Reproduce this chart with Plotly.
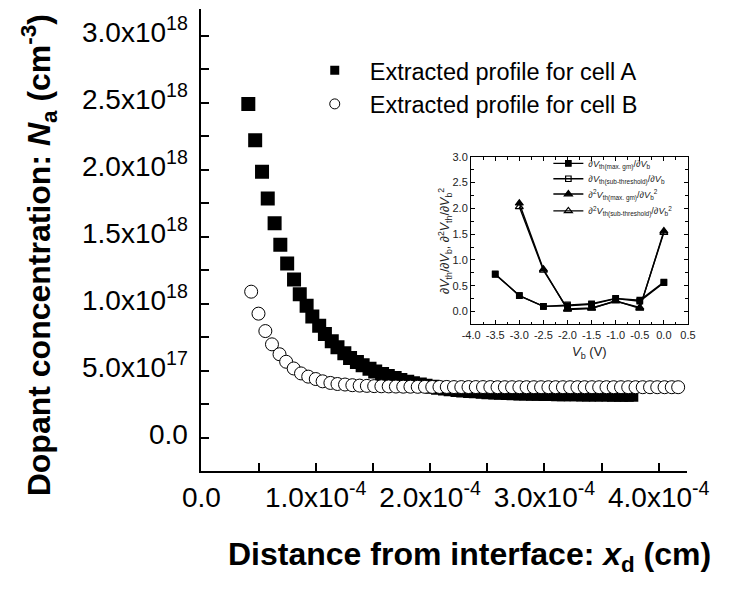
import numpy as np
import plotly.graph_objects as go

# ---- Main panel: extracted doping profiles (x in 1e-4 cm, N_a in 1e18 cm^-3) ----
dist_a = [0.41, 0.47, 0.53, 0.58, 0.64, 0.69, 0.75, 0.81, 0.86, 0.92,
          0.97, 1.03, 1.08, 1.14, 1.19, 1.25, 1.30, 1.36, 1.41, 1.47,
          1.52, 1.58, 1.63, 1.69, 1.74, 1.80, 1.85, 1.91, 1.96, 2.02,
          2.07, 2.13, 2.18, 2.24, 2.29, 2.35, 2.40, 2.46, 2.51, 2.57,
          2.62, 2.68, 2.73, 2.79, 2.84, 2.90, 2.95, 3.01, 3.06, 3.12,
          3.17, 3.23, 3.28, 3.34, 3.39, 3.45, 3.50, 3.56, 3.61, 3.67,
          3.72, 3.76]
conc_a = [2.49, 2.22, 1.985, 1.785, 1.60, 1.44, 1.30, 1.18, 1.07, 0.985,
          0.905, 0.835, 0.775, 0.72, 0.675, 0.63, 0.595, 0.565, 0.54, 0.515,
          0.495, 0.475, 0.46, 0.445, 0.43, 0.418, 0.407, 0.397, 0.388, 0.38,
          0.373, 0.367, 0.362, 0.357, 0.353, 0.349, 0.346, 0.343, 0.34, 0.338,
          0.336, 0.334, 0.332, 0.331, 0.33, 0.329, 0.328, 0.327, 0.326, 0.325,
          0.325, 0.324, 0.324, 0.323, 0.323, 0.322, 0.322, 0.322, 0.321, 0.321,
          0.321, 0.32]

dist_b = [0.435, 0.499, 0.559, 0.617, 0.683, 0.741, 0.807, 0.871, 0.934, 1.000,
          1.060, 1.128, 1.190, 1.256, 1.320, 1.384, 1.447, 1.511, 1.574, 1.638,
          1.701, 1.765, 1.828, 1.892, 1.955, 2.019, 2.082, 2.146, 2.209, 2.273,
          2.336, 2.400, 2.463, 2.527, 2.590, 2.654, 2.717, 2.781, 2.844, 2.908,
          2.971, 3.035, 3.098, 3.162, 3.225, 3.289, 3.352, 3.416, 3.479, 3.543,
          3.606, 3.670, 3.733, 3.797, 3.860, 3.924, 3.987, 4.051, 4.114, 4.170]
conc_b = [1.09, 0.926, 0.796, 0.697, 0.623, 0.567, 0.517, 0.480, 0.456, 0.438,
          0.421, 0.409, 0.401, 0.397, 0.392, 0.389, 0.387, 0.385, 0.384, 0.383,
          0.382, 0.381, 0.381, 0.380, 0.380, 0.379, 0.379, 0.379, 0.378, 0.378,
          0.378, 0.378, 0.378, 0.378, 0.377, 0.377, 0.377, 0.377, 0.377, 0.377,
          0.377, 0.377, 0.377, 0.377, 0.377, 0.377, 0.377, 0.377, 0.377, 0.377,
          0.377, 0.377, 0.377, 0.377, 0.377, 0.377, 0.377, 0.377, 0.377, 0.377]

x_ticks = [0.0, 1.0, 2.0, 3.0, 4.0]
x_ticktext = ["0.0", "1.0x10<sup>-4</sup>", "2.0x10<sup>-4</sup>",
              "3.0x10<sup>-4</sup>", "4.0x10<sup>-4</sup>"]
y_ticks = [0.0, 0.5, 1.0, 1.5, 2.0, 2.5, 3.0]
y_ticktext = ["0.0", "5.0x10<sup>17</sup>", "1.0x10<sup>18</sup>", "1.5x10<sup>18</sup>",
              "2.0x10<sup>18</sup>", "2.5x10<sup>18</sup>", "3.0x10<sup>18</sup>"]

# ---- Inset: threshold-voltage derivatives vs back bias ----
vb = [-3.5, -3.0, -2.5, -2.0, -1.5, -1.0, -0.5, 0.0]
d1_maxgm = [0.72, 0.31, 0.10, 0.11, 0.14, 0.25, 0.20, 0.56]
d1_sub = [0.73, 0.31, 0.10, 0.13, 0.15, 0.255, 0.22, 0.57]
vb2 = [-3.0, -2.5, -2.0, -1.5, -1.0, -0.5, 0.0]
d2_maxgm = [2.10, 0.82, 0.04, 0.06, 0.21, 0.06, 1.56]
d2_sub = [2.03, 0.80, 0.05, 0.07, 0.20, 0.08, 1.53]

inset_xticks = [-4.0, -3.5, -3.0, -2.5, -2.0, -1.5, -1.0, -0.5, 0.0, 0.5]
inset_yticks = [0.0, 0.5, 1.0, 1.5, 2.0, 2.5, 3.0]

W, H = 731, 590
FONT = "Liberation Sans, Arial, sans-serif"
X_UNIT, Y_UNIT = 1e-4, 1e18

fig = go.Figure()

fig.add_trace(go.Scatter(
    x=np.array(dist_a) * X_UNIT, y=np.array(conc_a) * Y_UNIT, mode="markers",
    marker=dict(symbol="square", size=14, color="black", line=dict(width=0)),
    showlegend=False))
fig.add_trace(go.Scatter(
    x=np.array(dist_b) * X_UNIT, y=np.array(conc_b) * Y_UNIT, mode="markers",
    marker=dict(symbol="circle", size=13, color="white", line=dict(width=1, color="black")),
    showlegend=False))

# legend entries for the main panel (smaller symbols than the data marks)
fig.add_trace(go.Scatter(
    x=[None], y=[None], mode="markers", name="Extracted profile for cell A",
    marker=dict(symbol="square", size=9, color="black"), legend="legend"))
fig.add_trace(go.Scatter(
    x=[None], y=[None], mode="markers", name="Extracted profile for cell B",
    marker=dict(symbol="circle", size=10, color="white", line=dict(width=1, color="black")),
    legend="legend"))

V = "<i>V</i>"
inset_series = [
    (vb, d1_maxgm, "square", 5.5,
     "∂" + V + "<sub>th(max. gm)</sub>/∂" + V + "<sub>b</sub>"),
    (vb, d1_sub, "square-open", 5.5,
     "∂" + V + "<sub>th(sub-threshold)</sub>/∂" + V + "<sub>b</sub>"),
    (vb2, d2_maxgm, "triangle-up", 7,
     "∂<sup>2</sup>" + V + "<sub>th(max. gm)</sub>/∂" + V + "<sub>b</sub><sup>2</sup>"),
    (vb2, d2_sub, "triangle-up-open", 7,
     "∂<sup>2</sup>" + V + "<sub>th(sub-threshold)</sub>/∂" + V + "<sub>b</sub><sup>2</sup>"),
]
# one small legend per inset series, stacked in the inset's upper right
inset_rows = [159, 174.5, 190, 207]
inset_legends = {}
for i, (xs, ys, sym, msize, label) in enumerate(inset_series):
    lname = "legend%d" % (i + 2)
    fig.add_trace(go.Scatter(
        x=xs, y=ys, mode="lines+markers", name=label,
        xaxis="x2", yaxis="y2", legend=lname,
        line=dict(color="black", width=1.4),
        marker=dict(symbol=sym, size=msize, color="black",
                    line=dict(width=1.2, color="black")),
    ))
    inset_legends[lname] = dict(
        x=560 / W, y=1 - inset_rows[i] / H, xanchor="left", yanchor="middle",
        bgcolor="rgba(0,0,0,0)", font=dict(size=9.2, family=FONT, color="#222"),
        itemwidth=30)

axis_common = dict(showgrid=False, zeroline=False, showline=True,
                   linecolor="black", ticks="inside", tickcolor="black")

fig.update_layout(
    width=W, height=H,
    margin=dict(l=0, r=0, t=0, b=0),
    paper_bgcolor="white", plot_bgcolor="white",
    font=dict(family=FONT, color="black"),
    xaxis=dict(**axis_common,
               domain=[193 / W, 707 / W], anchor="y",
               range=[0, 4.25e-4], linewidth=2, ticklen=8, tickwidth=1.5,
               tickmode="array", tickvals=[t * X_UNIT for t in x_ticks], ticktext=x_ticktext,
               tickfont=dict(size=28, family=FONT),
               minor=dict(ticks="inside", ticklen=8, tickwidth=1.5, tickcolor="black",
                          tick0=0, dtick=0.5 * X_UNIT)),
    yaxis=dict(**axis_common,
               domain=[1 - 470 / H, 1 - 3 / H], anchor="x",
               range=[-0.25 * Y_UNIT, 3.2 * Y_UNIT], linewidth=2, ticklen=8, tickwidth=1.5,
               tickmode="array", tickvals=[t * Y_UNIT for t in y_ticks], ticktext=y_ticktext,
               tickfont=dict(size=28, family=FONT), ticklabelstandoff=6, ticklabelshift=-4,
               minor=dict(ticks="inside", ticklen=8, tickwidth=1.5, tickcolor="black",
                          tick0=0, dtick=0.25 * Y_UNIT)),
    xaxis2=dict(**axis_common,
                domain=[478.3 / W, 707.7 / W], anchor="y2", mirror="ticks",
                range=[-4.0, 0.5], linewidth=1.3, ticklen=4, tickwidth=1,
                tickmode="array", tickvals=inset_xticks,
                ticktext=["%.1f" % t for t in inset_xticks],
                tickfont=dict(size=11, family=FONT, color="#222"),
                minor=dict(ticks="inside", ticklen=2.5, tickwidth=1, tickcolor="black",
                           tick0=0, dtick=0.25)),
    yaxis2=dict(**axis_common,
                domain=[1 - 321.7 / H, 1 - 152.4 / H], anchor="x2", mirror="ticks",
                range=[-0.25, 3.0], linewidth=1.3, ticklen=4, tickwidth=1,
                tickmode="array", tickvals=inset_yticks,
                ticktext=["%.1f" % t for t in inset_yticks],
                tickfont=dict(size=11, family=FONT, color="#222"),
                minor=dict(ticks="inside", ticklen=2.5, tickwidth=1, tickcolor="black",
                           tick0=0, dtick=0.25)),
    legend=dict(x=297 / W, y=1 - 43 / H, xanchor="left", yanchor="top",
                bgcolor="rgba(0,0,0,0)", font=dict(size=23.5, family=FONT),
                itemwidth=60, tracegroupgap=0),
    annotations=[
        dict(text="<b>Dopant concentration: <i>N</i><sub>a</sub> (cm<sup>-3</sup>)</b>",
             x=21 / W, y=1 - 252 / H, xref="paper", yref="paper", textangle=-90,
             showarrow=False, font=dict(size=32, family=FONT),
             xanchor="center", yanchor="middle"),
        dict(text="<b>Distance from interface: <i>x</i><sub>d</sub> (cm)</b>",
             x=477 / W, y=1 - 556 / H, xref="paper", yref="paper",
             showarrow=False, font=dict(size=32, family=FONT),
             xanchor="center", yanchor="middle"),
        dict(text="<i>V</i><sub>b</sub> (V)",
             x=604 / W, y=1 - 350 / H, xref="paper", yref="paper",
             showarrow=False, font=dict(size=13, family=FONT, color="#222"),
             xanchor="center", yanchor="middle"),
        dict(text="∂<i>V</i><sub>th</sub>/∂<i>V</i><sub>b</sub>, "
                  "∂<sup>2</sup><i>V</i><sub>th</sub>/∂<i>V</i><sub>b</sub><sup>2</sup>",
             x=450 / W, y=1 - 237 / H, xref="paper", yref="paper", textangle=-90,
             showarrow=False, font=dict(size=12.5, family=FONT, color="#222"),
             xanchor="center", yanchor="middle"),
    ],
    **inset_legends,
)

fig.write_html("out.html")
